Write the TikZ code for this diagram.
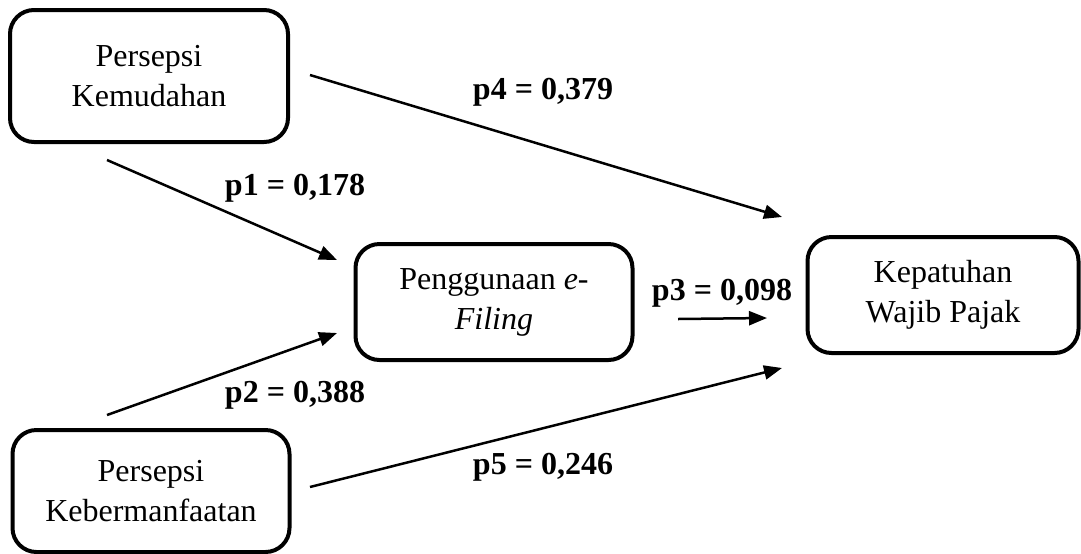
\documentclass[tikz,border=0pt]{standalone}
\usepackage{fontspec}
\setmainfont{Liberation Serif}
\usetikzlibrary{positioning, arrows.meta}

\begin{document}
\begin{tikzpicture}[x=0.5pt, y=-0.5pt,
	var/.style={draw, line width=2pt, rounded corners=12pt, align=center,
		font=\fontsize{16}{20}\selectfont, inner sep=0pt},
	path/.style={line width=1.25pt, -{Triangle[length=9pt, width=7pt]}},
	coef/.style={font=\fontsize{16}{20}\selectfont\bfseries, inner sep=0pt}]
	\useasboundingbox (0,0) rectangle (1081,553);
	
	\node[var, minimum width=139pt, minimum height=66pt] (pk) at (149,76) {Persepsi\\Kemudahan};
	\node[var, minimum width=138.5pt, minimum height=58pt] (pe) at (494,302) {Penggunaan \textit{e-}\\\textit{Filing}};
	\node[var, minimum width=135.5pt, minimum height=58pt] (kw) at (943,295) {Kepatuhan\\Wajib Pajak};
	\node[var, minimum width=138.5pt, minimum height=61pt] (pm) at (151,491) {Persepsi\\Kebermanfaatan};
	
	% ujung panah
	\coordinate (p1a) at (107,160);
	\coordinate (p1b) at (337,260);
	\coordinate (p2a) at (107,415);
	\coordinate (p2b) at (337,333);
	\coordinate (p3a) at (678,319);
	\coordinate (p3b) at (767,318);
	\coordinate (p4a) at (310,75);
	\coordinate (p4b) at (782,217);
	\coordinate (p5a) at (310,487);
	\coordinate (p5b) at (782,368);
	
	\draw[path] (p1a) -- (p1b);
	\draw[path] (p2a) -- (p2b);
	\draw[path] (p3a) -- (p3b);
	\draw[path] (p4a) -- (p4b);
	\draw[path] (p5a) -- (p5b);
	
	\node[coef] (l1) at (295,188) {p1 = 0,178};
	\node[coef] (l2) at (295,395) {p2 = 0,388};
	\node[coef] (l3) at (722,293) {p3 = 0,098};
	\node[coef] (l4) at (543,92) {p4 = 0,379};
	\node[coef] (l5) at (543,467) {p5 = 0,246};
\end{tikzpicture}
\end{document}
